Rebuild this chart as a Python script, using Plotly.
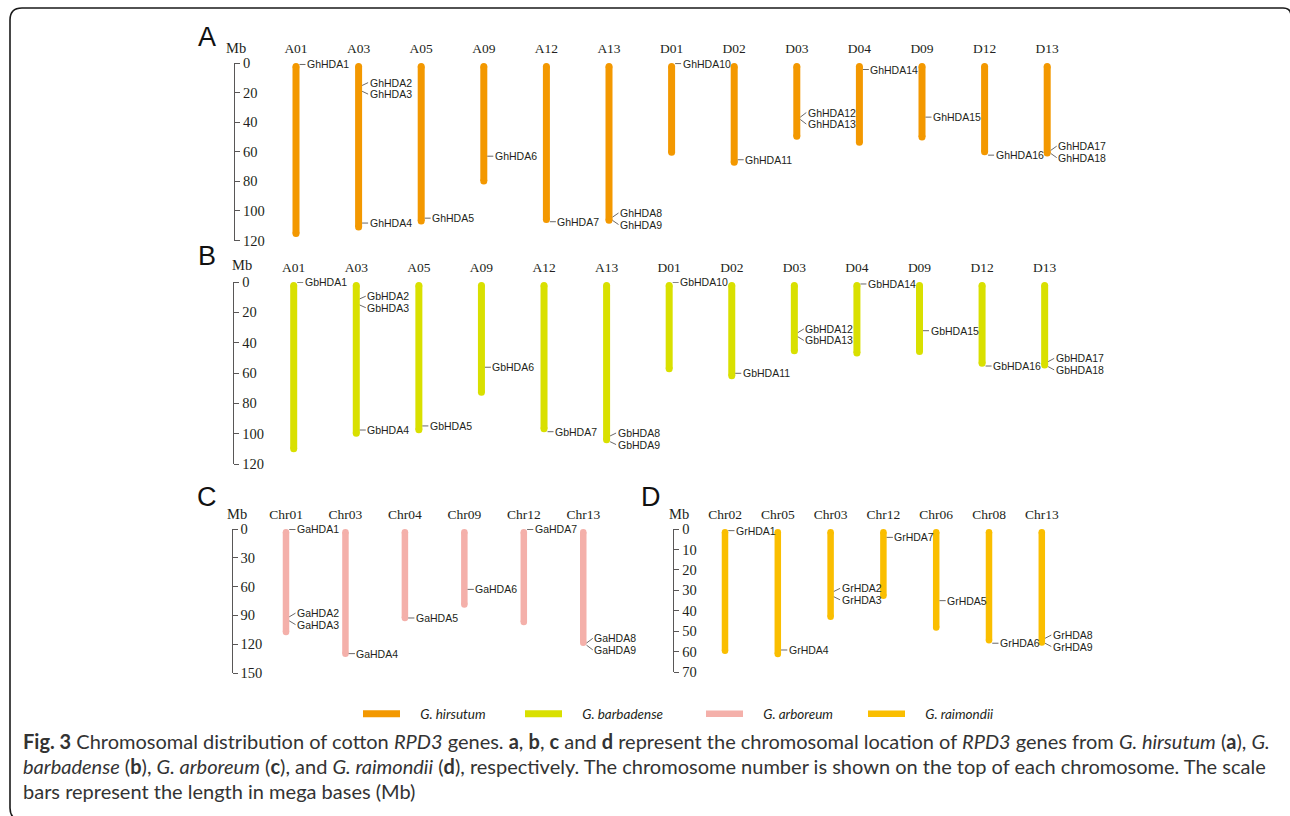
import plotly.graph_objects as go
from collections import defaultdict

W, H = 1290, 816

# ------------------------------------------------------------------ data
# A: G. hirsutum
hir_chroms = ["A01", "A03", "A05", "A09", "A12", "A13", "D01", "D02", "D03", "D04", "D09", "D12", "D13"]
hir_lengths = [117.7, 113.2, 109.1, 82.1, 108.2, 108.6, 62.7, 69.5, 51.9, 55.9, 52.4, 62.3, 63.2]
hir_genes = ["GhHDA1", "GhHDA2", "GhHDA3", "GhHDA4", "GhHDA5", "GhHDA6", "GhHDA7", "GhHDA8", "GhHDA9",
             "GhHDA10", "GhHDA11", "GhHDA12", "GhHDA13", "GhHDA14", "GhHDA15", "GhHDA16", "GhHDA17", "GhHDA18"]
hir_gene_chroms = ["A01", "A03", "A03", "A03", "A05", "A09", "A12", "A13", "A13",
                   "D01", "D02", "D03", "D03", "D04", "D09", "D12", "D13", "D13"]
hir_gene_pos = [1.0, 15.2, 19.1, 108.2, 104.9, 63.0, 107.3, 104.2, 106.4,
                0.4, 65.4, 36.6, 38.2, 4.4, 36.6, 62.3, 59.1, 61.1]

# B: G. barbadense
bar_chroms = ["A01", "A03", "A05", "A09", "A12", "A13", "D01", "D02", "D03", "D04", "D09", "D12", "D13"]
bar_lengths = [112.3, 102.0, 99.7, 75.0, 99.0, 106.3, 59.5, 64.1, 47.7, 49.2, 48.1, 55.8, 57.1]
bar_genes = ["GbHDA1", "GbHDA2", "GbHDA3", "GbHDA4", "GbHDA5", "GbHDA6", "GbHDA7", "GbHDA8", "GbHDA9",
             "GbHDA10", "GbHDA11", "GbHDA12", "GbHDA13", "GbHDA14", "GbHDA15", "GbHDA16", "GbHDA17", "GbHDA18"]
bar_gene_chroms = ["A01", "A03", "A03", "A03", "A05", "A09", "A12", "A13", "A13",
                   "D01", "D02", "D03", "D03", "D04", "D09", "D12", "D13", "D13"]
bar_gene_pos = [0.2, 11.1, 15.2, 97.6, 94.9, 56.2, 98.7, 101.5, 105.3,
                0.2, 60.2, 33.4, 36.1, 1.3, 32.1, 55.4, 52.5, 55.8]

# C: G. arboreum
arb_chroms = ["Chr01", "Chr03", "Chr04", "Chr09", "Chr12", "Chr13"]
arb_lengths = [110.6, 133.3, 96.0, 82.1, 100.2, 121.8]
arb_genes = ["GaHDA1", "GaHDA2", "GaHDA3", "GaHDA4", "GaHDA5", "GaHDA6", "GaHDA7", "GaHDA8", "GaHDA9"]
arb_gene_chroms = ["Chr01", "Chr01", "Chr01", "Chr03", "Chr04", "Chr09", "Chr12", "Chr13", "Chr13"]
arb_gene_pos = [0.5, 91.5, 95.7, 129.8, 92.7, 62.9, 0.5, 118.8, 121.0]

# D: G. raimondii
rai_chroms = ["Chr02", "Chr05", "Chr03", "Chr12", "Chr06", "Chr08", "Chr13"]
rai_lengths = [61.1, 62.7, 44.5, 34.2, 49.7, 55.9, 57.0]
rai_genes = ["GrHDA1", "GrHDA2", "GrHDA3", "GrHDA4", "GrHDA5", "GrHDA6", "GrHDA7", "GrHDA8", "GrHDA9"]
rai_gene_chroms = ["Chr02", "Chr03", "Chr03", "Chr05", "Chr06", "Chr08", "Chr12", "Chr13", "Chr13"]
rai_gene_pos = [0.8, 30.5, 33.1, 59.1, 35.0, 55.8, 4.1, 53.4, 55.8]

species_names = ["G. hirsutum", "G. barbadense", "G. arboreum", "G. raimondii"]
panel_letters = ["A", "B", "C", "D"]
axis_max = [120, 120, 150, 70]
axis_step = [20, 20, 30, 10]

caption_lines = [
    "<b>Fig. 3</b> Chromosomal distribution of cotton <i>RPD3</i> genes. <b>a</b>, <b>b</b>, <b>c</b> and <b>d</b> "
    "represent the chromosomal location of <i>RPD3</i> genes from <i>G. hirsutum</i> (<b>a</b>), <i>G.</i>",
    "<i>barbadense</i> (<b>b</b>), <i>G. arboreum</i> (<b>c</b>), and <i>G. raimondii</i> (<b>d</b>), respectively. "
    "The chromosome number is shown on the top of each chromosome. The scale",
    "bars represent the length in mega bases (Mb)",
]

# ------------------------------------------------------------------ styles / layout
colors = ["#f39800", "#d9e000", "#f4b0aa", "#fabe00"]
TXT = "#231f20"
AX = "#595757"
SERIF = "Liberation Serif, Times New Roman, serif"
SANS = "Liberation Sans, Arial, sans-serif"
CAP = "Lato, Liberation Sans, sans-serif"
LEG_GAP = "\u2002\u2002\u2009"  # extra gap between legend line and label

panels = [
    dict(data=(hir_chroms, hir_lengths, hir_genes, hir_gene_chroms, hir_gene_pos),
         axis_x=234, first=296, sp=62.6, top=63, bot=240.5, mb=(236.5, 48), letter=(207, 37), lw=7),
    dict(data=(bar_chroms, bar_lengths, bar_genes, bar_gene_chroms, bar_gene_pos),
         axis_x=233.3, first=293.7, sp=62.58, top=282, bot=464, mb=(241.5, 265), letter=(207, 256), lw=7),
    dict(data=(arb_chroms, arb_lengths, arb_genes, arb_gene_chroms, arb_gene_pos),
         axis_x=231.7, first=286, sp=59.45, top=529, bot=673, mb=(236.7, 514), letter=(207, 497), lw=6.5),
    dict(data=(rai_chroms, rai_lengths, rai_genes, rai_gene_chroms, rai_gene_pos),
         axis_x=673.3, first=725, sp=52.8, top=529, bot=672.3, mb=(678.8, 514), letter=(650.5, 497), lw=6.5),
]
legend_x = [358, 520, 701, 863]
legend_y = 714


def px(x):
    return x / W


def py(y):
    return 1 - y / H


fig = go.Figure()
shapes = []
annots = []
layout = {}

for k, p in enumerate(panels):
    sfx = "" if k == 0 else str(k + 1)
    xa, ya = "x" + sfx, "y" + sfx
    chroms, lengths, genes, gchroms, gpos = p["data"]
    n = len(chroms)
    ppm = (p["bot"] - p["top"]) / axis_max[k]
    r = p["lw"] / 2 / ppm

    xs, ys, cx, cy = [], [], [], []
    for i, L in enumerate(lengths):
        xs += [i, i, None]
        ys += [r, L - r, None]
        cx += [i, i]
        cy += [r, L - r]
    fig.add_trace(go.Scatter(
        x=xs, y=ys, mode="lines", line=dict(color=colors[k], width=p["lw"]),
        xaxis=xa, yaxis=ya, name=LEG_GAP + "<i>%s</i>" % species_names[k],
        legend="legend" + sfx, showlegend=True, hoverinfo="skip"))
    fig.add_trace(go.Scatter(
        x=cx, y=cy, mode="markers", marker=dict(color=colors[k], size=p["lw"], line=dict(width=0)),
        xaxis=xa, yaxis=ya, showlegend=False, cliponaxis=False, hoverinfo="skip"))

    # gene labels with spreading of close labels
    idx = {c: i for i, c in enumerate(chroms)}
    min_gap = 11.5 / ppm
    groups = defaultdict(list)
    for g, c, pos in zip(genes, gchroms, gpos):
        groups[c].append((pos, g))
    for c, items in groups.items():
        items.sort()
        clusters = [[items[0]]]
        for it in items[1:]:
            if it[0] - clusters[-1][-1][0] < min_gap:
                clusters[-1].append(it)
            else:
                clusters.append([it])
        for cl in clusters:
            m = sum(q for q, _ in cl) / len(cl)
            kk = len(cl)
            for j, (pos, g) in enumerate(cl):
                ly = m + (j - (kk - 1) / 2) * min_gap if kk > 1 else pos
                shapes.append(dict(type="line", xref=xa, yref=ya, xsizemode="pixel", xanchor=idx[c],
                                   x0=p["lw"] / 2, x1=9.5, y0=pos, y1=ly,
                                   line=dict(color=AX, width=0.9)))
                annots.append(dict(x=idx[c], y=ly, xref=xa, yref=ya, text=g, showarrow=False,
                                   xanchor="left", yanchor="middle", xshift=9,
                                   font=dict(family=SANS, size=10.5, color=TXT)))

    x_left = -(p["first"] - p["axis_x"]) / p["sp"]
    x_right = n - 0.35
    dom_r = p["axis_x"] + (x_right - x_left) * p["sp"]
    layout["xaxis" + sfx] = dict(
        domain=[px(p["axis_x"]), px(dom_r)], range=[x_left, x_right], anchor=ya, side="top",
        tickmode="array", tickvals=list(range(n)), ticktext=chroms,
        ticks="outside", ticklen=4, tickcolor="rgba(0,0,0,0)",
        showline=False, showgrid=False, zeroline=False, fixedrange=True,
        tickfont=dict(family=SERIF, size=13.5, color=TXT))
    layout["yaxis" + sfx] = dict(
        domain=[py(p["bot"]), py(p["top"])], range=[axis_max[k], 0], anchor="free",
        position=px(p["axis_x"]), side="right",
        tickmode="array", tickvals=list(range(0, axis_max[k] + 1, axis_step[k])),
        ticks="outside", ticklen=5, tickwidth=1, tickcolor=AX,
        showline=True, linecolor=AX, linewidth=1, showgrid=False, zeroline=False, fixedrange=True,
        tickfont=dict(family=SERIF, size=14.5, color=TXT))
    layout["legend" + sfx] = dict(
        x=px(legend_x[k]), y=py(legend_y), xanchor="left", yanchor="middle", orientation="h",
        bgcolor="rgba(0,0,0,0)", borderwidth=0, itemwidth=37,
        font=dict(family=CAP, size=13.5, color=TXT))

    annots.append(dict(x=px(p["mb"][0]), y=py(p["mb"][1]), xref="paper", yref="paper", text="Mb",
                       showarrow=False, xanchor="center", yanchor="middle",
                       font=dict(family=SERIF, size=14.5, color=TXT)))
    annots.append(dict(x=px(p["letter"][0]), y=py(p["letter"][1]), xref="paper", yref="paper",
                       text=panel_letters[k], showarrow=False, xanchor="center", yanchor="middle",
                       font=dict(family=SANS, size=27, color="#111111")))

# caption
for j, line in enumerate(caption_lines):
    annots.append(dict(x=px(21), y=py(741 + 25 * j), xref="paper", yref="paper", text=line,
                       showarrow=False, xanchor="left", yanchor="middle", align="left",
                       font=dict(family=CAP, size=20, color="#333333")))

# frame (rounded border of the figure)
def P(x, y):
    return "%.5f,%.5f" % (px(x), py(y))

frame = ("M " + P(1283, 8) + " L " + P(22, 8) + " Q " + P(10, 8) + " " + P(10, 20) +
         " L " + P(10, 808) + " Q " + P(10, 820) + " " + P(22, 820) + " L " + P(1300, 820))
shapes.append(dict(type="path", xref="paper", yref="paper", path=frame,
                   line=dict(color="#1a1a1a", width=1.6)))
shapes.append(dict(type="path", xref="paper", yref="paper",
                   path="M " + P(1283, 8) + " Q " + P(1291, 8) + " " + P(1291, 16) + " L " + P(1291, 830),
                   line=dict(color="#1a1a1a", width=1.6)))

fig.update_layout(
    width=W, height=H, margin=dict(l=0, r=0, t=0, b=0, autoexpand=False),
    paper_bgcolor="white", plot_bgcolor="rgba(0,0,0,0)",
    shapes=shapes, annotations=annots, **layout)

fig.write_html("out.html", config={"displayModeBar": False},
               post_script="document.body.style.margin='0';document.body.style.overflow='hidden';")
